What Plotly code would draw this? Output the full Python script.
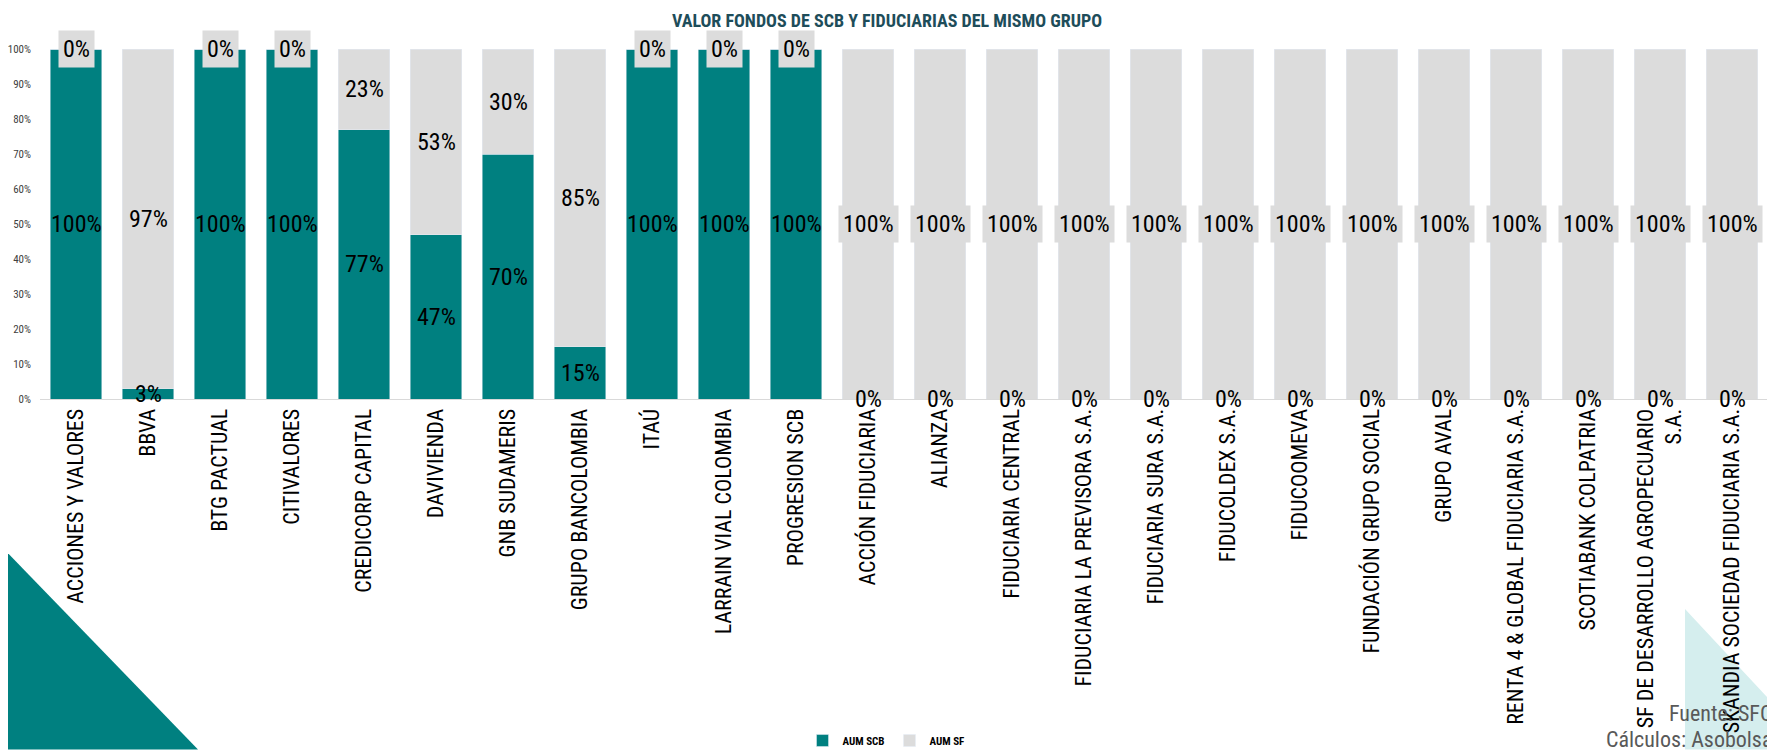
import plotly.graph_objects as go

categories = [
    "ACCIONES Y VALORES", "BBVA", "BTG PACTUAL", "CITIVALORES", "CREDICORP CAPITAL",
    "DAVIVIENDA", "GNB SUDAMERIS", "GRUPO BANCOLOMBIA", "ITAÚ", "LARRAIN VIAL COLOMBIA",
    "PROGRESION SCB", "ACCIÓN FIDUCIARIA", "ALIANZA", "FIDUCIARIA CENTRAL",
    "FIDUCIARIA LA PREVISORA S.A.", "FIDUCIARIA SURA S.A.", "FIDUCOLDEX S.A.", "FIDUCOOMEVA",
    "FUNDACIÓN GRUPO SOCIAL", "GRUPO AVAL", "RENTA 4 & GLOBAL FIDUCIARIA S.A.",
    "SCOTIABANK COLPATRIA", "SF DE DESARROLLO AGROPECUARIO<br>S.A.",
    "SKANDIA SOCIEDAD FIDUCIARIA S.A.",
]
aum_scb = [1.00, 0.03, 1.00, 1.00, 0.77, 0.47, 0.70, 0.15, 1.00, 1.00, 1.00,
           0, 0, 0, 0, 0, 0, 0, 0, 0, 0, 0, 0, 0]
aum_sf = [0.00, 0.97, 0.00, 0.00, 0.23, 0.53, 0.30, 0.85, 0.00, 0.00, 0.00,
          1, 1, 1, 1, 1, 1, 1, 1, 1, 1, 1, 1, 1]
y_ticks = [i / 10 for i in range(11)]

TEAL = "#008080"
GRAY = "#dcdcdc"
COND = "Roboto Condensed, Liberation Sans, Arial, sans-serif"

# the page body has an 8px default margin: work in window pixels, shift by it
OFF = 8
WIN_W, WIN_H = 1775, 751
W, H = WIN_W - OFF, WIN_H - OFF
PLOT_LEFT, PLOT_RIGHT, PLOT_TOP, PLOT_BOTTOM = 40, 1768, 48.5, 399.5  # window px
L = PLOT_LEFT - OFF
R = W - (PLOT_RIGHT - OFF)
T = PLOT_TOP - OFF
B = H - (PLOT_BOTTOM - OFF)
PW = PLOT_RIGHT - PLOT_LEFT
PH = PLOT_BOTTOM - PLOT_TOP


def px(x):
    return (x - PLOT_LEFT) / PW


def py(y):
    return (PLOT_BOTTOM - y) / PH


fig = go.Figure()
fig.add_trace(go.Bar(x=categories, y=aum_scb, name="<b>AUM SCB</b>", marker_color=TEAL,
                     hoverinfo="skip"))
fig.add_trace(go.Bar(x=categories, y=aum_sf, name="<b>AUM SF</b>", marker_color=GRAY,
                     hoverinfo="skip"))

annotations = []
for c, s, f in zip(categories, aum_scb, aum_sf):
    annotations.append(dict(x=c, y=s / 2, xref="x", yref="y", text=f"{s:.0%}",
                            showarrow=False, font=dict(family=COND, size=24, color="#000000")))
    annotations.append(dict(x=c, y=s + f / 2, xref="x", yref="y", text=f"{f:.0%}",
                            showarrow=False, bgcolor=GRAY, borderpad=4,
                            font=dict(family=COND, size=24, color="#000000")))

annotations.append(dict(x=px(1774), y=py(715), xref="paper", yref="paper", text="Fuente: SFC",
                        showarrow=False, xanchor="right", yanchor="middle",
                        font=dict(family=COND, size=22, color="#595959")))
annotations.append(dict(x=px(1774), y=py(741), xref="paper", yref="paper",
                        text="Cálculos: Asobolsa", showarrow=False, xanchor="right",
                        yanchor="middle", font=dict(family=COND, size=22, color="#595959")))

shapes = [
    dict(type="path", xref="paper", yref="paper", layer="below", line=dict(width=0),
         fillcolor=TEAL,
         path=f"M {px(0)} {py(546)} L {px(198)} {py(751)} L {px(0)} {py(751)} Z"),
    dict(type="path", xref="paper", yref="paper", layer="below", line=dict(width=0),
         fillcolor="#d5eeee",
         path=f"M {px(1685)} {py(610)} L {px(1775)} {py(707)} L {px(1775)} {py(751)} "
              f"L {px(1685)} {py(751)} Z"),
]

fig.update_layout(
    width=W, height=H,
    margin=dict(l=L, r=R, t=T, b=B, autoexpand=False),
    barmode="stack", bargap=0.28,
    plot_bgcolor="white", paper_bgcolor="white",
    title=dict(text="<b>VALOR FONDOS DE SCB Y FIDUCIARIAS DEL MISMO GRUPO</b>",
               x=(887 - OFF) / W, xref="container", xanchor="center",
               y=1 - (21 - OFF) / H, yref="container",
               yanchor="middle", font=dict(family=COND, size=18, color="#1e4d5a")),
    xaxis=dict(tickangle=-90, tickfont=dict(family=COND, size=22, color="#000000"),
               showline=True, linecolor="#d9d9d9", linewidth=1, ticks="", showgrid=False,
               automargin=False),
    yaxis=dict(range=[0, 1], tickvals=y_ticks, tickformat=".0%", showgrid=False,
               zeroline=False, automargin=False, ticklabelstandoff=8,
               tickfont=dict(family=COND, size=11, color="#404040")),
    legend=dict(orientation="h", x=px(886), xanchor="center", y=py(742), yanchor="middle",
                font=dict(family=COND, size=11, color="#000000"), traceorder="normal",
                itemwidth=30),
    annotations=annotations,
    shapes=shapes,
    showlegend=True,
)

fig.write_html("out.html")
